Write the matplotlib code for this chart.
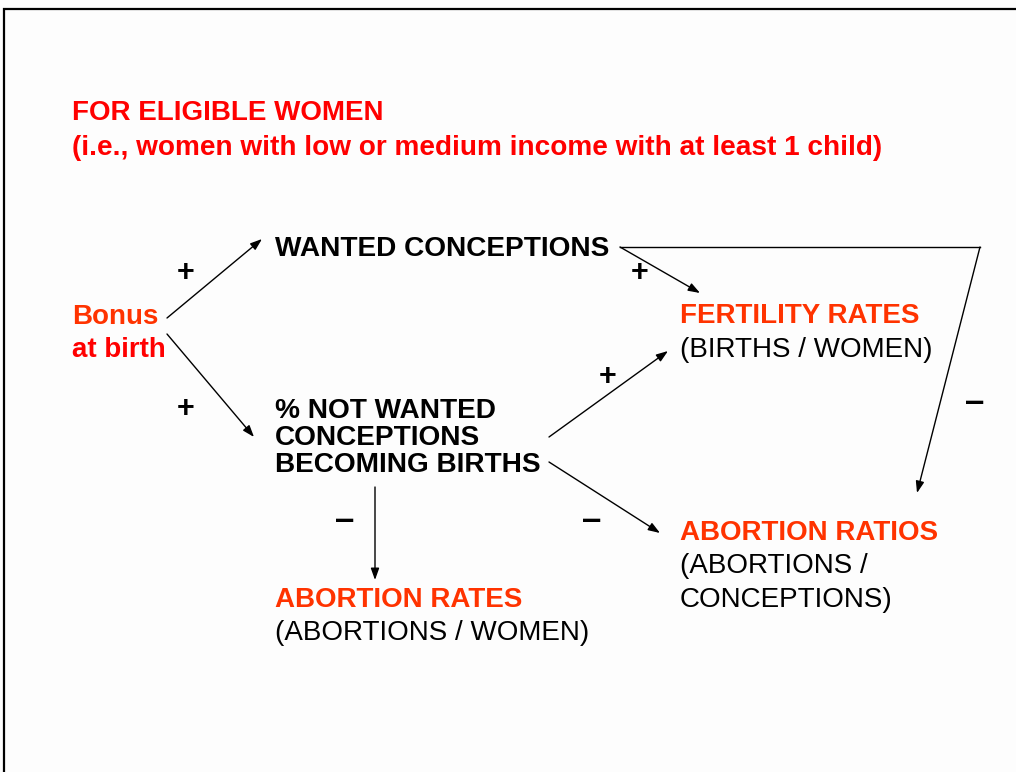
import matplotlib.pyplot as plt

# diagram text
title_lines = ['FOR ELIGIBLE WOMEN',
               '(i.e., women with low or medium income with at least 1 child)']
bonus_lines = ['Bonus', 'at birth']
wanted = 'WANTED CONCEPTIONS'
not_wanted_lines = ['% NOT WANTED', 'CONCEPTIONS', 'BECOMING BIRTHS']
fert_lines = ['FERTILITY RATES', '(BIRTHS / WOMEN)']
ratio_lines = ['ABORTION RATIOS', '(ABORTIONS /', 'CONCEPTIONS)']
rates_lines = ['ABORTION RATES', '(ABORTIONS / WOMEN)']

# arrows: (start, end) in pixel coords of the slide
arrows = [((167, 318), (262, 239)),
          ((167, 334), (254, 437)),
          ((620, 247), (700, 293)),
          ((549, 437), (668, 351)),
          ((549, 462), (660, 533)),
          ((375, 487), (375, 580))]
feedback = [(620, 247), (980, 247), (917, 493)]

# signs on the links
signs = ['+', '+', '+', '+', '\u2013', '\u2013', '\u2013']
sign_x = [186, 186, 640, 608, 345, 592, 975]
sign_y = [273, 409, 273, 377, 521, 521, 402]

RED = '#ff0000'
ORANGE = '#ff3300'
FONT = ['Liberation Sans', 'DejaVu Sans']

fig = plt.figure(figsize=(10.16, 7.72), dpi=100, facecolor='#fdfdfd')
ax = fig.add_axes([0, 0, 1, 1])
ax.set_xlim(0, 1016)
ax.set_ylim(772, 0)
ax.axis('off')

# slide border (top and left only visible)
ax.plot([4, 4, 1016], [772, 9, 9], color='black', lw=1.6, solid_joinstyle='miter')


def txt(x, y, s, color='black', bold=True, size=20):
    ax.text(x, y, s, color=color, fontsize=size, family=FONT,
            fontweight='bold' if bold else 'normal', ha='left', va='baseline')


txt(72, 120, title_lines[0], RED)
txt(72, 155, title_lines[1], RED, size=20.2)

txt(72, 324, bonus_lines[0], ORANGE)
txt(72, 357, bonus_lines[1], RED)

txt(275, 256, wanted, size=20.2)

for i, s in enumerate(not_wanted_lines):
    txt(275, 418 + 27 * i, s, size=20.2)

txt(680, 323, fert_lines[0], ORANGE)
txt(680, 357, fert_lines[1], bold=False)

txt(680, 540, ratio_lines[0], ORANGE)
txt(680, 573, ratio_lines[1], bold=False)
txt(680, 607, ratio_lines[2], bold=False)

txt(275, 607, rates_lines[0], ORANGE)
txt(275, 640, rates_lines[1], bold=False)

for s, x, y in zip(signs, sign_x, sign_y):
    ax.text(x, y, s, fontsize=22 if s == '+' else 25, family=FONT,
            fontweight='bold', ha='center', va='center', color='black')

style = dict(arrowstyle='-|>,head_length=0.7,head_width=0.25',
             color='black', lw=1.0, shrinkA=0, shrinkB=0)
for (x0, y0), (x1, y1) in arrows:
    ax.annotate('', xy=(x1, y1), xytext=(x0, y0), arrowprops=style)

fx = [p[0] for p in feedback]
fy = [p[1] for p in feedback]
ax.plot(fx[:2], fy[:2], color='black', lw=1.0)
ax.annotate('', xy=feedback[2], xytext=feedback[1], arrowprops=style)

fig.savefig('out.png', dpi=100, facecolor=fig.get_facecolor())
